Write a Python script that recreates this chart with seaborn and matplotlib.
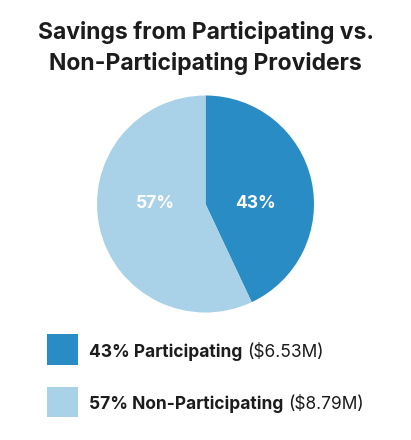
import matplotlib
matplotlib.use("Agg")

import matplotlib.pyplot as plt
import numpy as np
import seaborn as sns
from matplotlib.patches import Rectangle

# ── Data ─────────────────────────────────────────────────────────────────────
categories = ["Participating", "Non-Participating"]
shares = [43, 57]
savings_musd = [6.53, 8.79]
colors = ["#2A8CC4", "#A9D2E8"]
title_lines = ["Savings from Participating vs.", "Non-Participating Providers"]

# ── Style ────────────────────────────────────────────────────────────────────
sns.set_theme(style="white")
plt.rcParams["font.family"] = ["Inter", "DejaVu Sans"]
TEXT = "#1c1c1c"

W, H = 411, 440
fig = plt.figure(figsize=(W / 100, H / 100), dpi=100)
fig.patch.set_facecolor("white")

# pie axes: centre (205.5, 204) px, radius 108.5 px
cx, cy, r = 205.5, 204.0, 108.5
ax = fig.add_axes([(cx - r) / W, 1 - (cy + r) / H, 2 * r / W, 2 * r / H])
wedges, _, autotexts = ax.pie(
    shares,
    colors=colors,
    startangle=90,
    counterclock=False,
    autopct=lambda p: f"{p:.0f}%",
    pctdistance=0.47,
    wedgeprops=dict(linewidth=0),
    textprops=dict(color="white", fontsize=12.5, fontweight="bold"),
)
for t in autotexts:
    t.set_y(0)
ax.set_xlim(-1, 1)
ax.set_ylim(-1, 1)
ax.set_aspect("equal")
ax.axis("off")

# ── Title ────────────────────────────────────────────────────────────────────
for i, line in enumerate(title_lines):
    fig.text(cx / W, 1 - (39 + 31 * i) / H, line, ha="center", va="baseline",
             fontsize=16.5, fontweight="bold", color=TEXT)

# ── Legend ───────────────────────────────────────────────────────────────────
renderer = fig.canvas.get_renderer()
for i, (cat, pct, val, col) in enumerate(zip(categories, shares, savings_musd, colors)):
    top = 334 + 52.5 * i
    fig.patches.append(Rectangle((47 / W, 1 - (top + 30.5) / H), 31 / W, 30.5 / H,
                                 transform=fig.transFigure, facecolor=col,
                                 edgecolor="none"))
    base_y = 1 - (top + 22.8) / H
    bold = fig.text(89 / W, base_y, f"{pct}% {cat}", ha="left", va="baseline",
                    fontsize=12.5, fontweight="bold", color=TEXT)
    bb = bold.get_window_extent(renderer)
    fig.text((bb.x1 + 5) / W, base_y, f"(${val:.2f}M)", ha="left", va="baseline",
             fontsize=12.5, color=TEXT)

fig.savefig("out.png", dpi=100)
